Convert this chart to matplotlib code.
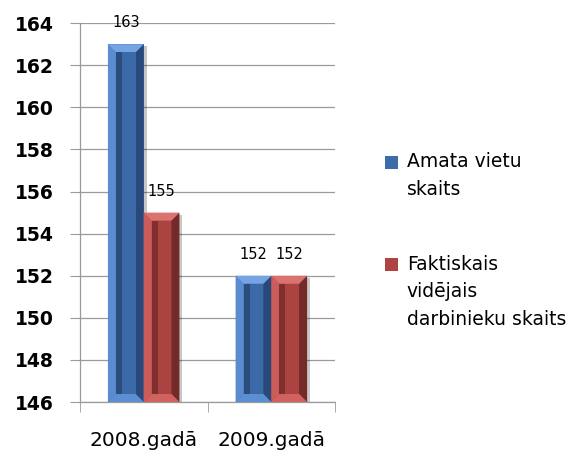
import numpy as np
import matplotlib.pyplot as plt
from matplotlib.patches import Polygon, Rectangle

categories = ["2008.gadā", "2009.gadā"]
series_names = ["Amata vietu\nskaits", "Faktiskais\nvidējais\ndarbinieku skaits"]
amata = [163, 152]
faktiskais = [155, 152]
y_ticks = [146, 148, 150, 152, 154, 156, 158, 160, 162, 164]

# face colours for the bevelled bars
blue = dict(main="#3D6CAA", left="#5A8DD0", top="#74A4E2", right="#28497A",
            bottom="#5C8FD2", dark="#2B4D7E", light="#3C6AA8")
red = dict(main="#AE4441", left="#CB5C59", top="#DA736F", right="#742A28",
           bottom="#D0625F", dark="#7F2F2D", light="#AB4441")

fig = plt.figure(figsize=(5.87, 4.54), dpi=100)
ax = fig.add_axes([0.136, 0.1145, 0.435, 0.8345])

ymin, ymax = 146, 164
ax.set_ylim(ymin, ymax)
ax.set_xlim(-0.5, 1.5)

x = np.arange(len(categories))
w = 0.28

# data units per pixel, for the bevel size
dx = 2.0 / (0.435 * 587)
dy = (ymax - ymin) / (0.8345 * 454)


def bevel_bar(ax, x0, width, top, c):
    base = ymin
    bx = 8 * dx
    by = 8 * dy
    x1 = x0 + width
    # soft shadow
    ax.add_patch(Rectangle((x0 + 3 * dx, base - 2 * dy), width, top - base,
                           color="black", alpha=0.22, zorder=2, lw=0))
    faces = [
        ([(x0, base), (x0, top), (x0 + bx, top - by), (x0 + bx, base + by)], c["left"]),
        ([(x1, base), (x1, top), (x1 - bx, top - by), (x1 - bx, base + by)], c["right"]),
        ([(x0, top), (x1, top), (x1 - bx, top - by), (x0 + bx, top - by)], c["top"]),
        ([(x0, base), (x1, base), (x1 - bx, base + by), (x0 + bx, base + by)], c["bottom"]),
    ]
    for pts, col in faces:
        ax.add_patch(Polygon(pts, closed=True, color=col, lw=0, zorder=4))
    inner_w = width - 2 * bx
    ax.add_patch(Rectangle((x0 + bx, base + by), inner_w * 0.3, top - base - 2 * by,
                           color=c["dark"], lw=0, zorder=4))
    ax.add_patch(Rectangle((x0 + bx + inner_w * 0.3, base + by), inner_w * 0.7,
                           top - base - 2 * by, color=c["light"], lw=0, zorder=4))


bars1 = ax.bar(x - w / 2, amata, w, color=blue["main"], label=series_names[0], zorder=3)
bars2 = ax.bar(x + w / 2, faktiskais, w, color=red["main"], label=series_names[1], zorder=3)

for bars, vals, c in [(bars1, amata, blue), (bars2, faktiskais, red)]:
    for b, v in zip(bars, vals):
        bevel_bar(ax, b.get_x(), b.get_width(), v, c)
        ax.annotate(str(v), (b.get_x() + b.get_width() / 2, v),
                    xytext=(0, 10), textcoords="offset points",
                    ha="center", va="bottom", fontsize=10.5, zorder=6)

ax.set_yticks(y_ticks)
ax.set_yticklabels([str(t) for t in y_ticks], fontsize=13.5, fontweight="bold")
ax.tick_params(axis="y", length=7, color="#9A9A9A", pad=12)
ax.grid(axis="y", color="#9A9A9A", lw=0.9, zorder=0)

ax.set_xticks(x)
ax.set_xticklabels(categories, fontsize=14.5)
ax.tick_params(axis="x", length=0, pad=21)
ax.set_xticks([-0.5, 0.5, 1.5], minor=True)
ax.tick_params(axis="x", which="minor", length=7, color="#9A9A9A")

for s in ["top", "right"]:
    ax.spines[s].set_visible(False)
for s in ["left", "bottom"]:
    ax.spines[s].set_color("#9A9A9A")
    ax.spines[s].set_linewidth(0.9)

fs = 13.5
ls = 1.56
leg = fig.legend(loc="center left", bbox_to_anchor=(0.656, 0.47),
                 bbox_transform=fig.transFigure, frameon=False,
                 prop={"size": fs},
                 handlelength=0.7, handleheight=0.7, handletextpad=0.45,
                 labelspacing=3.0, borderpad=0, borderaxespad=0)
# line the marker up with the first line of its label
for h, t in zip(leg.legend_handles, leg.get_texts()):
    t.set_linespacing(ls)
    n = t.get_text().count("\n")
    h.set_y(h.get_y() + n * 0.5 * ls * fs * 0.96)

fig.savefig("out.png", dpi=100)
